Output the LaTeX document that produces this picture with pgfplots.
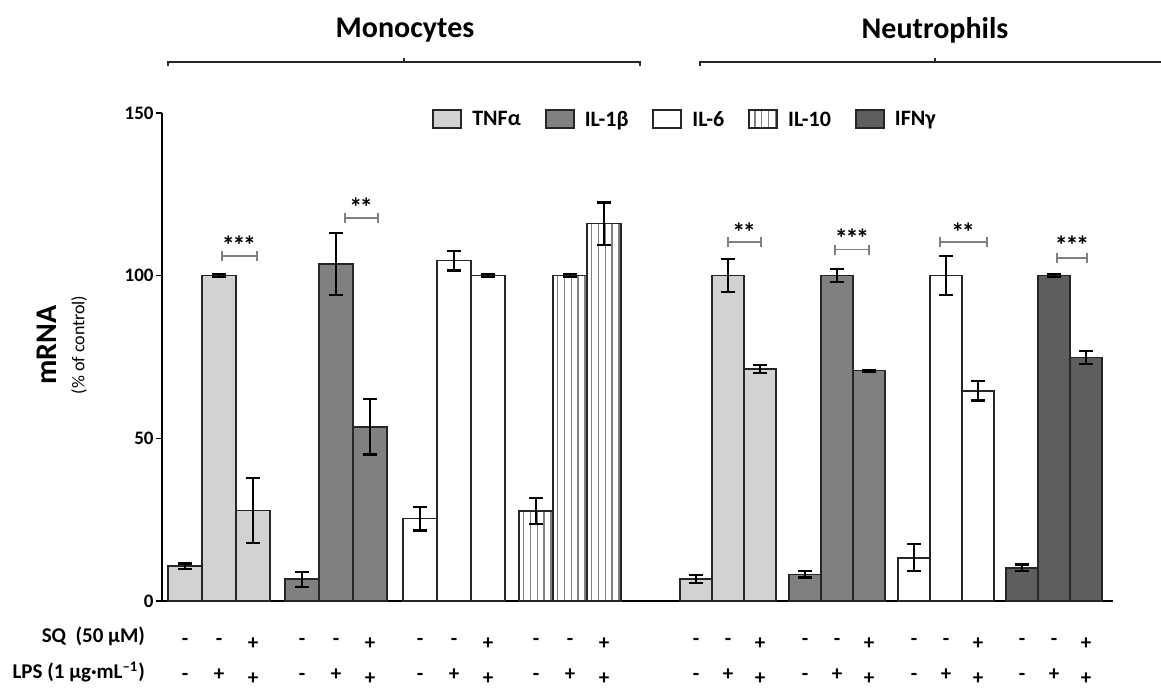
\documentclass[border=0pt]{standalone}
\usepackage{fontspec}
\setmainfont{Carlito}
\usepackage{pgfplots}
\pgfplotsset{compat=1.18}
\usetikzlibrary{patterns.meta}
\definecolor{tnf}{HTML}{D2D2D2}
\definecolor{ilb}{HTML}{808080}
\definecolor{ifn}{HTML}{5E5E5E}
\newcommand{\sstar}{*\kern-1.2pt*}
\newcommand{\tstar}{*\kern-1.2pt*\kern-1.2pt*}
\begin{document}
\begin{tikzpicture}
\path[use as bounding box] (0pt,0pt) rectangle (580.5pt,345pt);
\begin{axis}[
 at={(81pt,44.5pt)}, anchor=south west,
 scale only axis, width=475.5pt, height=244pt,
 xmin=162, xmax=1113, ymin=0, ymax=150,
 axis lines*=left,
 axis line style={line width=0.9pt, black},
 ytick={0,50,100,150},
 tick align=outside,
 major tick length=3pt,
 y tick style={line width=0.8pt, black},
 yticklabel style={font=\bfseries\fontsize{9.5}{9.5}\selectfont, inner sep=1pt},
 /pgf/number format/assume math mode=true,
 xtick={185,219,253,302,336,370,420,454,488,536,570,604,696,728,760,805,837,869,914,946,978,1022,1054,1086},
 xticklabels={{-\\-},{-\\+},{+\\+},{-\\-},{-\\+},{+\\+},{-\\-},{-\\+},{+\\+},{-\\-},{-\\+},{+\\+},
              {-\\-},{-\\+},{+\\+},{-\\-},{-\\+},{+\\+},{-\\-},{-\\+},{+\\+},{-\\-},{-\\+},{+\\+}},
 x tick style={draw=none},
 xticklabel style={align=center, font=\bfseries\fontsize{10.5}{17.5}\selectfont, yshift=-12pt},
 clip=false,
 legend columns=5,
 legend style={draw=none, fill=none, at={(0.551,0.985)}, anchor=center,
   font=\bfseries\fontsize{11}{11}\selectfont,
   /tikz/every odd column/.append style={column sep=3pt},
   /tikz/every even column/.append style={column sep=10pt}},
 legend image code/.code={\draw[#1,/tikz/.cd,line width=1pt,draw=black!85] (0pt,-4pt) rectangle (14pt,5pt);},
 error bars/y dir=both, error bars/y explicit,
 error bars/error bar style={line width=1.1pt, black},
 error bars/error mark options={rotate=90, mark size=3.5pt, line width=1.1pt, black},
]
% Monocytes
\addplot[ybar, bar width=34, bar shift=0pt, fill=tnf, draw=black!85, line width=0.8pt]
 coordinates {(185,10.7) +- (0,0.8) (219,100) +- (0,0.5) (253,27.8) +- (0,10)};
\addlegendentry{TNFα}
\addplot[ybar, bar width=34, bar shift=0pt, fill=ilb, draw=black!85, line width=0.8pt]
 coordinates {(302,6.7) +- (0,2.3) (336,103.6) +- (0,9.5) (370,53.5) +- (0,8.5)};
\addlegendentry{IL-1β}
\addplot[ybar, bar width=34, bar shift=0pt, fill=white, draw=black!85, line width=0.8pt]
 coordinates {(420,25.3) +- (0,3.6) (454,104.6) +- (0,3) (488,100) +- (0,0.5)};
\addlegendentry{IL-6}
\addplot[ybar, bar width=34, bar shift=0pt, fill=white, pattern={Lines[angle=90,distance=3.4pt,line width=0.7pt]}, pattern color=gray, draw=black!85, line width=0.8pt]
 coordinates {(536,27.7) +- (0,4) (570,100) +- (0,0.5) (604,116) +- (0,6.5)};
\addlegendentry{IL-10}
% Neutrophils
\addplot[ybar, bar width=32, bar shift=0pt, fill=tnf, draw=black!85, line width=0.8pt, forget plot]
 coordinates {(696,6.7) +- (0,1.2) (728,100) +- (0,5) (760,71.3) +- (0,1.2)};
\addplot[ybar, bar width=32, bar shift=0pt, fill=ilb, draw=black!85, line width=0.8pt, forget plot]
 coordinates {(805,8.2) +- (0,1) (837,100) +- (0,2) (869,70.8) +- (0,0.3)};
\addplot[ybar, bar width=32, bar shift=0pt, fill=white, draw=black!85, line width=0.8pt, forget plot]
 coordinates {(914,13.3) +- (0,4.2) (946,100) +- (0,6) (978,64.6) +- (0,3)};
\addplot[ybar, bar width=32, bar shift=0pt, fill=ifn, draw=black!85, line width=0.8pt]
 coordinates {(1022,10.2) +- (0,1) (1054,100) +- (0,0.5) (1086,74.8) +- (0,2)};
\addlegendentry{IFNγ}
% significance brackets
\begin{scope}[gray, line width=0.7pt]
\draw (222,106) -- (257,106); \draw (222,104.5)--(222,107.5); \draw (257,104.5)--(257,107.5);
\draw (345,117.7) -- (378,117.7); \draw (345,116.2)--(345,119.2); \draw (378,116.2)--(378,119.2);
\draw (728,110.3) -- (761,110.3); \draw (728,108.8)--(728,111.8); \draw (761,108.8)--(761,111.8);
\draw (835,108) -- (869,108); \draw (835,106.5)--(835,109.5); \draw (869,106.5)--(869,109.5);
\draw (940,110.3) -- (987,110.3); \draw (940,108.8)--(940,111.8); \draw (987,108.8)--(987,111.8);
\draw (1057,105.4) -- (1087,105.4); \draw (1057,103.9)--(1057,106.9); \draw (1087,103.9)--(1087,106.9);
\end{scope}
\begin{scope}[every node/.style={font=\bfseries\fontsize{13}{13}\selectfont, inner sep=0pt}]
\node at (239,109.5) {\tstar};
\node at (361,121) {\sstar};
\node at (744,113.5) {\sstar};
\node at (852,111.5) {\tstar};
\node at (963,113.5) {\sstar};
\node at (1072,109.5) {\tstar};
\end{scope}
\end{axis}
% group headings
\node[font=\bfseries\fontsize{15}{15}\selectfont] at (202.5pt,330pt) {Monocytes};
\node[font=\bfseries\fontsize{15}{15}\selectfont] at (467.5pt,330pt) {Neutrophils};
\draw[line width=0.9pt, black!85] (84pt,312pt)--(84pt,314pt)--(320pt,314pt)--(320pt,312pt);
\draw[line width=0.9pt, black!85] (202pt,314pt)--(202pt,316pt);
\draw[line width=0.9pt, black!85] (350pt,312pt)--(350pt,314pt)--(585pt,314pt);
\draw[line width=0.9pt, black!85] (467.5pt,314pt)--(467.5pt,316pt);
% y label
\node[rotate=90, font=\bfseries\fontsize{15}{15}\selectfont] at (23.5pt,172.5pt) {mRNA};
\node[rotate=90, font=\fontsize{9}{9}\selectfont] at (39.5pt,172.5pt) {(\% of control)};
% row labels
\node[anchor=east, font=\bfseries\fontsize{10.5}{10.5}\selectfont] at (76pt,27pt) {SQ\ \ (50 µM)};
\node[anchor=east, font=\bfseries\fontsize{10.5}{10.5}\selectfont] at (76pt,9pt) {LPS (1 µg·mL\textsuperscript{–1})};
\end{tikzpicture}
\end{document}
